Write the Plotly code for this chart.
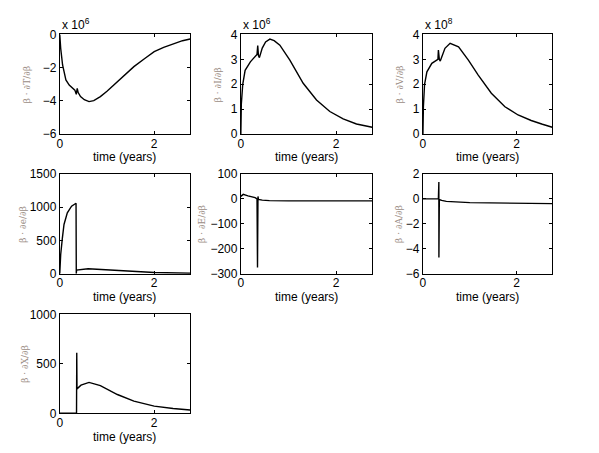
import plotly.graph_objects as go

# panel 1: beta * dT/dbeta  (x 10^6)
t_T = [0, 0.02, 0.06, 0.13, 0.2, 0.27, 0.32, 0.35, 0.37, 0.39, 0.44, 0.52, 0.62, 0.72, 0.86, 1.0, 1.22, 1.4, 1.57, 1.8, 2.0, 2.2, 2.4, 2.6, 2.76]
y_T = [0, -0.84, -1.84, -2.74, -3.05, -3.24, -3.35, -3.6, -3.25, -3.5, -3.74, -3.93, -4.04, -3.98, -3.74, -3.42, -2.84, -2.38, -1.94, -1.45, -1.04, -0.78, -0.56, -0.38, -0.28]

# panel 2: beta * dI/dbeta  (x 10^6)
t_I = [0, 0.01, 0.04, 0.09, 0.2, 0.3, 0.34, 0.355, 0.37, 0.39, 0.45, 0.52, 0.61, 0.7, 0.82, 1.03, 1.31, 1.59, 1.87, 2.15, 2.43, 2.76]
y_I = [0, 1.2, 2.0, 2.56, 2.9, 3.1, 3.2, 3.55, 3.15, 3.07, 3.45, 3.7, 3.81, 3.75, 3.57, 2.97, 2.04, 1.37, 0.91, 0.61, 0.41, 0.28]

# panel 3: beta * dV/dbeta  (x 10^8)
t_V = [0, 0.01, 0.035, 0.085, 0.19, 0.3, 0.32, 0.33, 0.35, 0.37, 0.47, 0.58, 0.76, 0.97, 1.18, 1.46, 1.75, 2.03, 2.31, 2.55, 2.76]
y_V = [0, 1.1, 2.0, 2.5, 2.84, 2.97, 3.0, 3.37, 3.0, 2.93, 3.44, 3.64, 3.5, 2.97, 2.37, 1.64, 1.1, 0.77, 0.55, 0.4, 0.28]

# panel 4: beta * de/dbeta
t_e = [0, 0.02, 0.056, 0.09, 0.16, 0.25, 0.345, 0.35, 0.355, 0.6, 1.0, 1.5, 2.0, 2.76]
y_e = [0, 290, 540, 740, 915, 1015, 1060, 0, 55, 75, 60, 35, 18, 8]

# panel 5: beta * dE/dbeta
t_E = [0, 0.05, 0.15, 0.3, 0.34, 0.35, 0.36, 0.37, 0.45, 0.6, 1.0, 2.0, 2.76]
y_E = [10, 18, 12, 5, 0, -275, 10, -2, -5, -7, -8, -8, -8]

# panel 6: beta * dA/dbeta
t_A = [0, 0.33, 0.34, 0.341, 0.35, 0.4, 0.5, 1.0, 1.5, 2.0, 2.76]
y_A = [0, 0, 1.35, -4.7, -0.05, -0.12, -0.2, -0.3, -0.33, -0.35, -0.38]

# panel 7: beta * dX/dbeta
t_X = [0, 0.355, 0.36, 0.365, 0.45, 0.62, 0.86, 1.22, 1.57, 2.0, 2.4, 2.76]
y_X = [0, 0, 613, 247, 285, 313, 280, 190, 123, 73, 48, 33]

panels = [
    (t_T, y_T, 'β · ∂T/∂β', [-6, 0], [-6, -4, -2, 0], 'x 10<sup>6</sup>', 33),
    (t_I, y_I, 'β · ∂I/∂β', [0, 4], [0, 1, 2, 3, 4], 'x 10<sup>6</sup>', 23),
    (t_V, y_V, 'β · ∂V/∂β', [0, 4], [0, 1, 2, 3, 4], 'x 10<sup>8</sup>', 23),
    (t_e, y_e, 'β · ∂e/∂β', [0, 1500], [0, 500, 1000, 1500], None, 37),
    (t_E, y_E, 'β · ∂E/∂β', [-300, 100], [-300, -200, -100, 0, 100], None, 39),
    (t_A, y_A, 'β · ∂A/∂β', [-6, 2], [-6, -4, -2, 0, 2], None, 24),
    (t_X, y_X, 'β · ∂X/∂β', [0, 1000], [0, 500, 1000], None, 35),
]

W, H = 599, 453
xcols = [(49, 180), (231, 363), (414, 544)]
yrows = [(20, 123), (164, 267), (309, 411)]

fig = go.Figure()
annotations = []
font = dict(family='Liberation Sans, Arial', size=12, color='black')

for i, (t, y, lab, yr, yt, expo, off) in enumerate(panels):
    r, c = divmod(i, 3)
    n = '' if i == 0 else str(i + 1)
    x0, x1 = xcols[c]
    y0, y1 = yrows[r]
    fig.add_trace(go.Scatter(x=t, y=y, mode='lines', line=dict(color='black', width=1.4),
                             showlegend=False, xaxis='x' + n, yaxis='y' + n))
    common = dict(showline=True, mirror='ticks', linecolor='black', linewidth=1,
                  ticks='inside', ticklen=3, tickcolor='black', showgrid=False,
                  zeroline=False, tickfont=font)
    fig.layout['xaxis' + n] = dict(common, domain=[x0 / W, x1 / W], range=[0, 2.76],
                                   tickvals=[0, 2], anchor='y' + n, ticklabelstandoff=-2)
    fig.layout['yaxis' + n] = dict(common, domain=[1 - y1 / H, 1 - y0 / H], range=yr,
                                   tickvals=yt, anchor='x' + n)
    # x label
    annotations.append(dict(text='time (years)', xref='paper', yref='paper',
                            x=(x0 + x1) / 2 / W, y=1 - (y1 + 24) / H, showarrow=False,
                            xanchor='center', yanchor='middle', font=font))
    # y label, rotated, small and grey
    annotations.append(dict(text=lab, xref='paper', yref='paper', x=(x0 - off) / W,
                            y=1 - (y0 + y1) / 2 / H, textangle=-90, showarrow=False,
                            xanchor='center', yanchor='middle',
                            font=dict(family='DejaVu Serif', size=9, color='#9a8c84')))
    if expo:
        annotations.append(dict(text=expo, xref='paper', yref='paper', x=x0 / W,
                                y=1 - y0 / H, showarrow=False, xanchor='left',
                                yanchor='bottom', font=font))

fig.update_layout(width=W, height=H, margin=dict(l=0, r=0, t=0, b=0),
                  paper_bgcolor='white', plot_bgcolor='white', annotations=annotations)

fig.write_html("out.html")
